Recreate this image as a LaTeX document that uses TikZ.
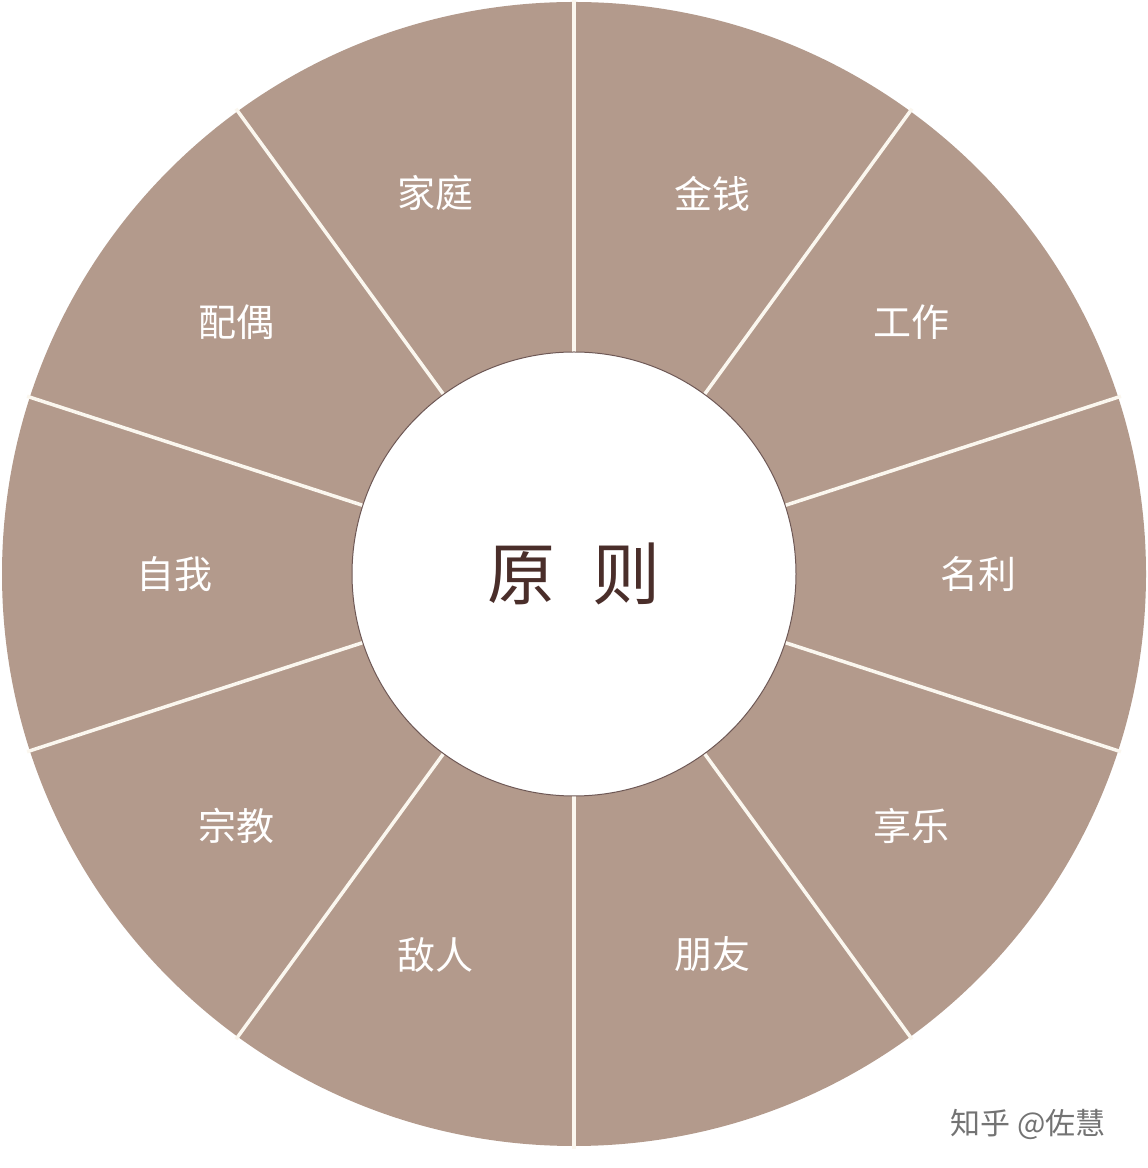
\documentclass[tikz,border=0pt]{standalone}
\usepackage{fontspec}
\setmainfont{Noto Sans CJK SC}
\usetikzlibrary{calc}
\definecolor{wheelfill}{HTML}{B39A8C}
\definecolor{rimline}{HTML}{FBF7EF}
\definecolor{hubtext}{HTML}{4A2E2A}
\tikzset{
  sector/.style={text=white, font=\fontsize{38}{38}\selectfont},
  spoke/.style={draw=rimline, line width=3.5pt}
}
\begin{document}
\begin{tikzpicture}[x=1pt, y=1pt]
  \useasboundingbox[fill=white] (0,0) rectangle (1148,1168);
  % Wheel
  \coordinate (hubc) at (574,594);
  \fill[wheelfill] (hubc) circle (572);
  % Spokes
  \foreach \a in {18,54,...,342}
    \draw[spoke] ($(hubc)+(\a:220)$) -- ($(hubc)+(\a:575)$);
  % Hub
  \draw[fill=white, draw=hubtext!80, line width=1pt] (hubc) circle (222);
  \node[text=hubtext, font=\fontsize{68}{68}\selectfont] (hub) at (hubc) {原\hspace{0.55em}则};
  % Labels
  \foreach \t/\a/\r [count=\i from 0] in {名利/0/404,工作/36.7/421,金钱/70/405,家庭/110/405,
      配偶/143.3/421,自我/180/400,宗教/216.7/421,敌人/250/405,朋友/290/405,享乐/323.3/421}
    \node[sector] (lab\i) at ($(hubc)+(\a:\r)$) {\t};
  % Watermark
  \node[text=black!55, font=\fontsize{30}{30}\selectfont] (mark) at (1028,44) {知乎 @佐慧};
\end{tikzpicture}
\end{document}
